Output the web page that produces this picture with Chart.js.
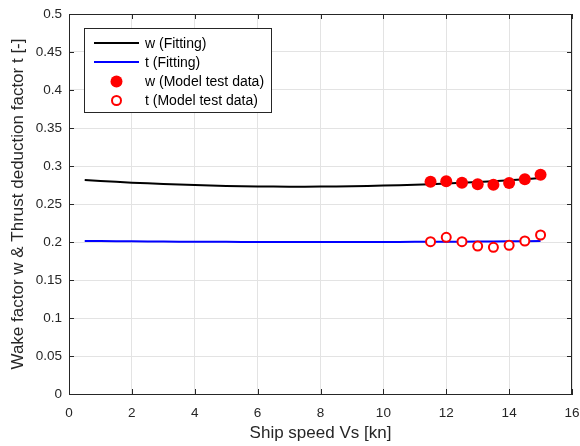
<!DOCTYPE html>
<html>
<head>
<meta charset="utf-8">
<script src="https://cdn.jsdelivr.net/npm/chart.js@4/dist/chart.umd.min.js"></script>
<style>
  body { margin: 0; background: #fff; }
  #wrap { width: 580px; height: 446px; position: relative; }
</style>
</head>
<body>
<div id="wrap"><canvas id="chart"></canvas></div>
<script>
// fitted curves
const fitSpeed = [0.5, 1, 2, 3, 4, 5, 6, 7, 8, 9, 10, 11, 12, 13, 14, 15];
const wFit = [0.2816, 0.2803, 0.2781, 0.2763, 0.2749, 0.2738, 0.2731, 0.2728, 0.2729, 0.2734, 0.2742, 0.2754, 0.2770, 0.2790, 0.2813, 0.2841];
const tFit = [0.2013, 0.2012, 0.2009, 0.2006, 0.2004, 0.2002, 0.2001, 0.2000, 0.2000, 0.2000, 0.2001, 0.2002, 0.2004, 0.2006, 0.2009, 0.2012];

// model test data
const testSpeed = [11.5, 12, 12.5, 13, 13.5, 14, 14.5, 15];
const wTest = [0.2793, 0.2799, 0.2780, 0.2759, 0.2754, 0.2776, 0.2825, 0.2886];
const tTest = [0.2004, 0.2062, 0.2004, 0.1947, 0.1930, 0.1957, 0.2013, 0.2092];

const xTicks = [0, 2, 4, 6, 8, 10, 12, 14, 16];
const yTicks = [0, 0.05, 0.1, 0.15, 0.2, 0.25, 0.3, 0.35, 0.4, 0.45, 0.5];

const legendLabels = ["w (Fitting)", "t (Fitting)", "w (Model test data)", "t (Model test data)"];

const axisColor = "#262626";
const gridColor = "#e3e3e3";
const fontFamily = "Arial, 'Liberation Sans', Helvetica, sans-serif";

const toPts = (xs, ys) => xs.map((x, i) => ({ x: x, y: ys[i] }));

// box frame + inward ticks like matlab
const framePlugin = {
  id: "frame",
  afterDraw(chart) {
    const { ctx, chartArea: a, scales } = chart;
    ctx.save();
    ctx.strokeStyle = axisColor;
    ctx.lineWidth = 1;
    ctx.strokeRect(a.left + 0.5, a.top + 0.5, a.right - a.left - 1, a.bottom - a.top);
    ctx.beginPath();
    xTicks.forEach(v => {
      const px = Math.round(scales.x.getPixelForValue(v)) + 0.5;
      ctx.moveTo(px, a.bottom); ctx.lineTo(px, a.bottom - 5);
      ctx.moveTo(px, a.top); ctx.lineTo(px, a.top + 5);
    });
    yTicks.forEach(v => {
      const py = Math.round(scales.y.getPixelForValue(v)) + 0.5;
      ctx.moveTo(a.left, py); ctx.lineTo(a.left + 5, py);
      ctx.moveTo(a.right, py); ctx.lineTo(a.right - 5, py);
    });
    ctx.stroke();
    ctx.restore();
  }
};

// legend box drawn by hand
const legendPlugin = {
  id: "boxLegend",
  afterDraw(chart) {
    const ctx = chart.ctx;
    const bx = 84, by = 28, bw = 187, bh = 84;
    const rows = [43, 62, 81.5, 100.5];
    ctx.save();
    ctx.fillStyle = "#fff";
    ctx.fillRect(bx, by, bw, bh);
    ctx.strokeStyle = axisColor;
    ctx.lineWidth = 1;
    ctx.strokeRect(bx + 0.5, by + 0.5, bw, bh);
    ctx.font = "14px " + fontFamily;
    ctx.textBaseline = "middle";
    rows.forEach((y, i) => {
      const ds = chart.data.datasets[i];
      if (i < 2) {
        ctx.strokeStyle = ds.borderColor;
        ctx.lineWidth = 2;
        ctx.beginPath();
        ctx.moveTo(94, y); ctx.lineTo(139, y);
        ctx.stroke();
      } else {
        ctx.beginPath();
        if (i === 2) {
          ctx.fillStyle = "#ff0000";
          ctx.arc(116.5, y, 6, 0, Math.PI * 2);
          ctx.fill();
        } else {
          ctx.strokeStyle = "#ff0000";
          ctx.lineWidth = 2;
          ctx.arc(116.5, y, 4.5, 0, Math.PI * 2);
          ctx.stroke();
        }
      }
      ctx.fillStyle = "#000";
      ctx.fillText(legendLabels[i], 145, y + 1);
    });
    ctx.restore();
  }
};

new Chart(document.getElementById("chart"), {
  type: "scatter",
  data: {
    datasets: [
      { label: legendLabels[0], data: toPts(fitSpeed, wFit), showLine: true, borderColor: "#000000", borderWidth: 2, pointRadius: 0, tension: 0.4, order: 3 },
      { label: legendLabels[1], data: toPts(fitSpeed, tFit), showLine: true, borderColor: "#0000ff", borderWidth: 2, pointRadius: 0, tension: 0.4, order: 4 },
      { label: legendLabels[2], data: toPts(testSpeed, wTest), pointRadius: 6, pointBackgroundColor: "#ff0000", pointBorderColor: "#ff0000", pointBorderWidth: 0, order: 1 },
      { label: legendLabels[3], data: toPts(testSpeed, tTest), pointRadius: 4.5, pointBackgroundColor: "#ffffff", pointBorderColor: "#ff0000", pointBorderWidth: 2, order: 2 }
    ]
  },
  options: {
    responsive: true,
    maintainAspectRatio: false,
    animation: false,
    layout: { padding: { left: 0, right: 8, top: 14, bottom: 0 } },
    plugins: { legend: { display: false }, tooltip: { enabled: false } },
    scales: {
      x: {
        type: "linear", min: 0, max: 16,
        afterBuildTicks: s => { s.ticks = xTicks.map(v => ({ value: v })); },
        afterFit: s => { s.height = 52; s.paddingLeft = 0; s.paddingRight = 0; },
        grid: { color: gridColor, drawTicks: false },
        border: { color: axisColor },
        ticks: { color: axisColor, padding: 11, font: { size: 13.5, family: fontFamily } },
        title: { display: true, text: "Ship speed Vs [kn]", color: axisColor, font: { size: 17, family: fontFamily }, padding: { top: 0, bottom: 2 } }
      },
      y: {
        type: "linear", min: 0, max: 0.5,
        afterBuildTicks: s => { s.ticks = yTicks.map(v => ({ value: v })); },
        afterFit: s => { s.width = 69; s.paddingTop = 0; s.paddingBottom = 0; },
        grid: { color: gridColor, drawTicks: false },
        border: { color: axisColor },
        ticks: { color: axisColor, padding: 7, font: { size: 13.5, family: fontFamily }, callback: v => String(+v.toFixed(2)) },
        title: { display: true, text: "Wake factor w & Thrust deduction factor t [-]", color: axisColor, font: { size: 17, family: fontFamily }, padding: { top: 8, bottom: 4 } }
      }
    }
  },
  plugins: [framePlugin, legendPlugin]
});
</script>
</body>
</html>
